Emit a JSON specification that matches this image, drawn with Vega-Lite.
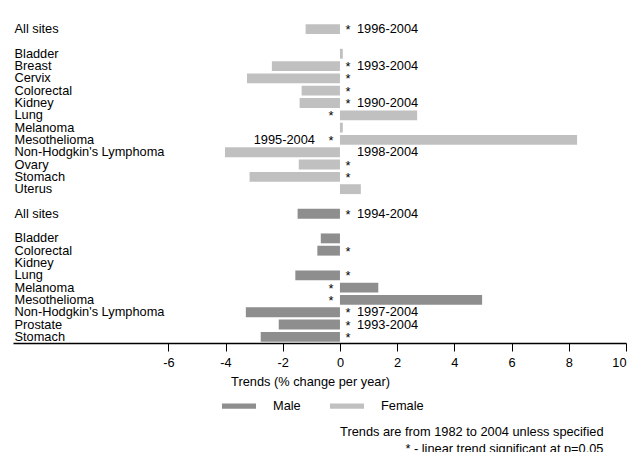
{
  "$schema": "https://vega.github.io/schema/vega-lite/v6.json",
  "width": 613,
  "height": 320,
  "padding": {"left": 13, "top": 22, "right": 6, "bottom": 0},
  "background": "white",
  "config": {
    "font": "Liberation Sans",
    "view": {"stroke": null},
    "text": {"font": "Liberation Sans", "fontSize": 12.8, "color": "black"}
  },
  "title": {
    "text": ["Trends are from 1982 to 2004 unless specified", "* - linear trend significant at p=0.05"],
    "orient": "bottom",
    "anchor": "end",
    "align": "right",
    "dx": -23,
    "offset": 13,
    "fontSize": 12.8,
    "fontWeight": "normal",
    "lineHeight": 17,
    "color": "black"
  },
  "data": {
    "values": [
      {"key": "F|All sites", "sex": "Female", "value": -1.2, "star": true, "period": "1996-2004"},
      {"key": "F|Bladder", "sex": "Female", "value": 0.1, "star": false, "period": ""},
      {"key": "F|Breast", "sex": "Female", "value": -2.38, "star": true, "period": "1993-2004"},
      {"key": "F|Cervix", "sex": "Female", "value": -3.25, "star": true, "period": ""},
      {"key": "F|Colorectal", "sex": "Female", "value": -1.34, "star": true, "period": ""},
      {"key": "F|Kidney", "sex": "Female", "value": -1.41, "star": true, "period": "1990-2004"},
      {"key": "F|Lung", "sex": "Female", "value": 2.7, "star": true, "period": ""},
      {"key": "F|Melanoma", "sex": "Female", "value": 0.1, "star": false, "period": ""},
      {"key": "F|Mesothelioma", "sex": "Female", "value": 8.29, "star": true, "period": "1995-2004"},
      {"key": "F|Non-Hodgkin's Lymphoma", "sex": "Female", "value": -4.02, "star": false, "period": "1998-2004"},
      {"key": "F|Ovary", "sex": "Female", "value": -1.44, "star": true, "period": ""},
      {"key": "F|Stomach", "sex": "Female", "value": -3.16, "star": true, "period": ""},
      {"key": "F|Uterus", "sex": "Female", "value": 0.73, "star": false, "period": ""},
      {"key": "M|All sites", "sex": "Male", "value": -1.48, "star": true, "period": "1994-2004"},
      {"key": "M|Bladder", "sex": "Male", "value": -0.67, "star": false, "period": ""},
      {"key": "M|Colorectal", "sex": "Male", "value": -0.79, "star": true, "period": ""},
      {"key": "M|Kidney", "sex": "Male", "value": 0, "star": false, "period": ""},
      {"key": "M|Lung", "sex": "Male", "value": -1.56, "star": true, "period": ""},
      {"key": "M|Melanoma", "sex": "Male", "value": 1.34, "star": true, "period": ""},
      {"key": "M|Mesothelioma", "sex": "Male", "value": 4.97, "star": true, "period": ""},
      {"key": "M|Non-Hodgkin's Lymphoma", "sex": "Male", "value": -3.29, "star": true, "period": "1997-2004"},
      {"key": "M|Prostate", "sex": "Male", "value": -2.14, "star": true, "period": "1993-2004"},
      {"key": "M|Stomach", "sex": "Male", "value": -2.77, "star": true, "period": ""}
    ]
  },
  "encoding": {
    "y": {
      "field": "key",
      "type": "nominal",
      "scale": {
        "domain": [
          "F|All sites", "_1", "F|Bladder", "F|Breast", "F|Cervix", "F|Colorectal", "F|Kidney",
          "F|Lung", "F|Melanoma", "F|Mesothelioma", "F|Non-Hodgkin's Lymphoma", "F|Ovary",
          "F|Stomach", "F|Uterus", "_2", "M|All sites", "_3", "M|Bladder", "M|Colorectal",
          "M|Kidney", "M|Lung", "M|Melanoma", "M|Mesothelioma", "M|Non-Hodgkin's Lymphoma",
          "M|Prostate", "M|Stomach"
        ],
        "paddingInner": 0.2,
        "paddingOuter": 0.1
      },
      "axis": {
        "title": null,
        "domain": false,
        "ticks": false,
        "tickSize": 0,
        "labelAlign": "left",
        "labelPadding": -1,
        "labelFont": "Liberation Sans",
        "labelFontSize": 12.8,
        "labelColor": "black",
        "labelExpr": "split(datum.value, '|')[1] || ''"
      }
    }
  },
  "layer": [
    {
      "mark": {"type": "bar"},
      "encoding": {
        "x": {
          "field": "value",
          "type": "quantitative",
          "scale": {"domain": [-11.43, 10], "nice": false, "zero": false},
          "axis": {
            "values": [-6, -4, -2, 0, 2, 4, 6, 8, 10],
            "labelExpr": "datum.value + ''",
            "grid": false,
            "domainColor": "black",
            "domainWidth": 1.5,
            "tickColor": "black",
            "tickSize": 8,
            "tickWidth": 1,
            "labelFont": "Liberation Sans",
            "labelFontSize": 12.8,
            "labelColor": "black",
            "labelPadding": 5,
            "title": "Trends (% change per year)",
            "titleFont": "Liberation Sans",
            "titleFontSize": 12.8,
            "titleFontWeight": "normal",
            "titleColor": "black",
            "titleX": 297,
            "titlePadding": 7
          }
        },
        "color": {
          "field": "sex",
          "type": "nominal",
          "scale": {"domain": ["Male", "Female"], "range": ["#8e8e8e", "#c0c0c0"]},
          "legend": {
            "title": null,
            "orient": "none",
            "direction": "horizontal",
            "legendX": 209,
            "legendY": 366,
            "symbolType": "M-1,-0.15H1V0.15H-1Z",
            "symbolSize": 1156,
            "symbolStrokeWidth": 0,
            "labelFont": "Liberation Sans",
            "labelFontSize": 12.8,
            "labelColor": "black",
            "labelOffset": 17,
            "columnPadding": 14,
            "gridAlign": "all"
          }
        }
      }
    },
    {
      "transform": [{"filter": "datum.star && datum.value <= 0"}],
      "mark": {"type": "text", "align": "center", "baseline": "middle", "dx": 8, "dy": 1},
      "encoding": {"x": {"datum": 0}, "text": {"value": "*"}}
    },
    {
      "transform": [{"filter": "datum.star && datum.value > 0"}],
      "mark": {"type": "text", "align": "center", "baseline": "middle", "dx": -9, "dy": 1},
      "encoding": {"x": {"datum": 0}, "text": {"value": "*"}}
    },
    {
      "transform": [{"filter": "datum.period != '' && datum.value <= 0"}],
      "mark": {"type": "text", "align": "left", "baseline": "middle", "dx": 17},
      "encoding": {"x": {"datum": 0}, "text": {"field": "period"}}
    },
    {
      "transform": [{"filter": "datum.period != '' && datum.value > 0"}],
      "mark": {"type": "text", "align": "right", "baseline": "middle", "dx": -25},
      "encoding": {"x": {"datum": 0}, "text": {"field": "period"}}
    }
  ]
}
